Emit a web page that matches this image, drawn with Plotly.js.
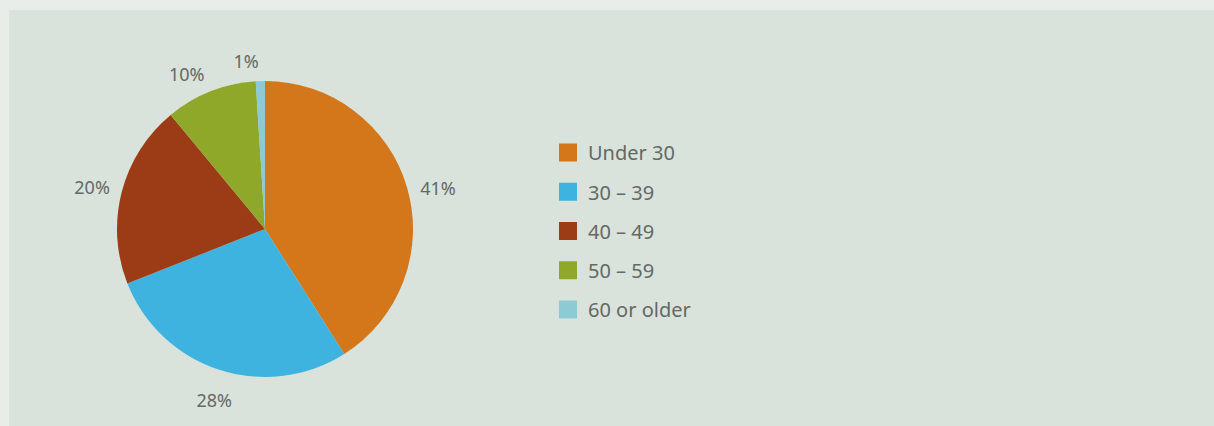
<!DOCTYPE html>
<html>
<head>
<meta charset="utf-8">
<script src="https://cdn.plot.ly/plotly-3.0.1.min.js"></script>
<style>html,body{margin:0;padding:0;background:#e8edea;}#chart{width:1214px;height:426px;}</style>
</head>
<body>
<div id="chart"></div>
<script>
const categories = ["Under 30", "30 \u2013 39", "40 \u2013 49", "50 \u2013 59", "60 or older"];
const shares = [41, 28, 20, 10, 1];
const colors = ["#d4771a", "#3fb3e0", "#9c3c17", "#8fa82a", "#8ecad4"];

const W = 1214, H = 426;
const CX = 265, CY = 229, R = 148;   // pie centre and radius in pixels
const textColor = "#646866";
const fontFamily = "'Noto Sans', 'Open Sans', sans-serif";

function domainFor(r) {
  return {x: [(CX - r) / W, (CX + r) / W], y: [(H - CY - r) / H, (H - CY + r) / H]};
}

const pie = {
  type: "pie",
  values: shares,
  labels: categories,
  marker: {colors: colors, line: {width: 0}},
  sort: false,
  direction: "clockwise",
  rotation: 0,
  textinfo: "none",
  showlegend: false,
  hoverinfo: "label+percent",
  domain: domainFor(R)
};

// transparent copies of the same pie that only carry the percentage labels,
// pulled outward (and nudged) so labels sit a little away from the rim
function labelPie(show, pull, rot) {
  return {
    type: "pie",
    values: shares,
    labels: categories,
    marker: {colors: shares.map(() => "rgba(0,0,0,0)"), line: {width: 0}},
    sort: false,
    direction: "clockwise",
    rotation: rot,
    pull: pull,
    textposition: shares.map((_, i) => show.includes(i) ? "outside" : "none"),
    texttemplate: "%{percent:.0%}",
    outsidetextfont: {family: fontFamily, size: 18, color: textColor},
    automargin: false,
    showlegend: false,
    hoverinfo: "skip",
    domain: domainFor(R * (1 + pull))
  };
}

const labelTraces = [
  labelPie([0, 2, 3], 0.045, 1.0),
  labelPie([4], 0.055, 1.7),
  labelPie([1], 0.092, -8.4)
];

const legendTraces = categories.map((c, i) => ({
  type: "scatter",
  mode: "markers",
  x: [null], y: [null],
  name: c,
  legendgroup: "g" + i,
  showlegend: true,
  marker: {symbol: "square", size: 16, color: colors[i], line: {width: 2, color: colors[i]}},
  hoverinfo: "skip"
}));

const layout = {
  width: W, height: H,
  margin: {l: 0, r: 0, t: 0, b: 0},
  paper_bgcolor: "#e8edea",
  plot_bgcolor: "rgba(0,0,0,0)",
  xaxis: {visible: false, domain: [0.9, 1]},
  yaxis: {visible: false, domain: [0.9, 1]},
  shapes: [{
    type: "rect", xref: "paper", yref: "paper", layer: "below",
    x0: 9 / W, x1: 1, y0: 0, y1: (H - 10) / H,
    fillcolor: "#d9e3dc", line: {width: 0}
  }],
  showlegend: true,
  legend: {
    x: 548 / W, xanchor: "left",
    y: 1 - 133 / H, yanchor: "top",
    bgcolor: "rgba(0,0,0,0)",
    font: {family: fontFamily, size: 20, color: textColor},
    tracegroupgap: 10.25,
    itemsizing: "trace",
    itemclick: false, itemdoubleclick: false
  }
};

Plotly.newPlot("chart", [pie].concat(labelTraces, legendTraces), layout, {displayModeBar: false, staticPlot: true});
</script>
</body>
</html>
